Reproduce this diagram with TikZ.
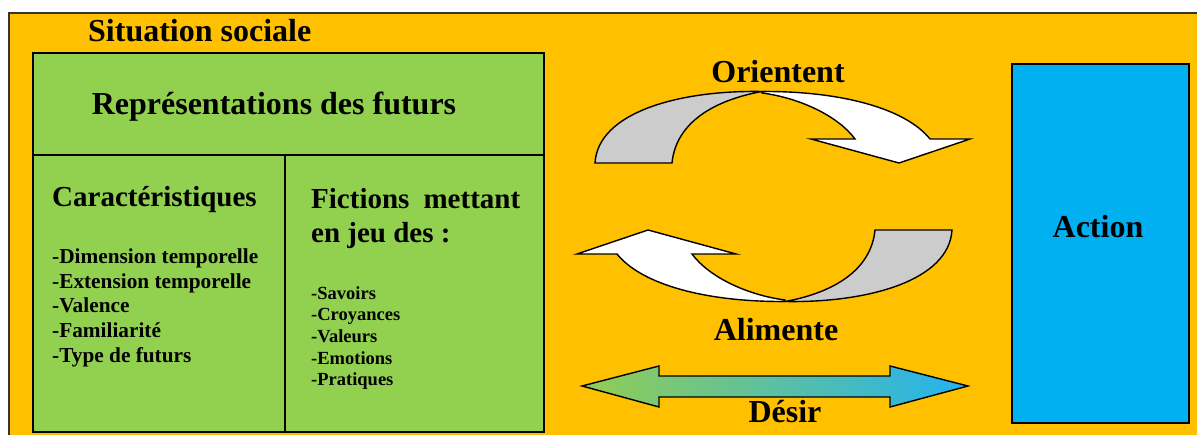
\documentclass[tikz,border=0pt]{standalone}
\usepackage{fontspec}
\setmainfont{Liberation Serif}
\definecolor{bgorange}{HTML}{FFC000}
\definecolor{boxgreen}{HTML}{92D050}
\definecolor{boxblue}{HTML}{00B0F0}
\definecolor{arrgray}{HTML}{CCCCCC}
\definecolor{shgreen}{HTML}{8CCB5C}
\definecolor{shblue}{HTML}{2AB4E8}
\tikzset{
  frame/.style={line width=1.6pt, draw=black},
  big/.style={font=\bfseries\fontsize{32}{36}\selectfont, inner sep=0pt},
  mid/.style={font=\bfseries\fontsize{29}{34}\selectfont, inner sep=0pt},
  lista/.style={font=\bfseries\fontsize{21.3}{24.75}\selectfont, inner sep=0pt, align=left},
  listb/.style={font=\bfseries\fontsize{18.5}{21.7}\selectfont, inner sep=0pt, align=left},
  blockarrow/.style={line width=1.4pt, draw=black, line join=miter},
}
\begin{document}
\begin{tikzpicture}[x=1pt,y=-1pt]
\useasboundingbox (0,0) rectangle (1197,435);
% social situation background
\fill[bgorange] (8,12) rectangle (1200,440);
\draw[line width=1.6pt, draw=black!80] (9,440) -- (9,12.8) -- (1200,12.8);
\node[big, anchor=base west] (sit) at (88,42) {Situation sociale};

% green box of representations
\draw[frame, fill=boxgreen] (33,53) rectangle (544,432);
\draw[frame] (33,155) -- (544,155);
\draw[frame] (285,155) -- (285,432);
\node[big, anchor=base] (rep) at (274,115) {Représentations des futurs};
\node[mid, anchor=base west] (car) at (52,207) {Caractéristiques};
\node[lista, anchor=north west] (cara) at (52,248.5) {-Dimension temporelle\\-Extension temporelle\\-Valence\\-Familiarité\\-Type de futurs};
\node[mid, anchor=base west] (fic) at (311,209) {\hbox to 209pt{Fictions\hfill mettant}};
\node[mid, anchor=base west] (jeu) at (311,243) {en jeu des :};
\node[listb, anchor=north west] (ficl) at (311,286) {-Savoirs\\-Croyances\\-Valeurs\\-Emotions\\-Pratiques};

% action box
\node[frame, fill=boxblue, minimum width=177, minimum height=359, inner sep=0pt] (act) at (1100.5,243.5) {};
\node[big, anchor=base] (actl) at (1098,238) {Action};

% curved arrow "Orientent"
\begin{scope}
\draw[blockarrow, fill=white] (762,91.5) .. controls (840,91) and (905,108) .. (930,139)
  -- (970,139) -- (899,163) -- (811,139) -- (855,139)
  .. controls (838,116) and (800,98) .. (762,93) -- cycle;
\draw[blockarrow, fill=arrgray] (595,163) .. controls (598,112) and (680,90) .. (762,91.5)
  .. controls (715,100) and (676,122) .. (672,163) -- cycle;
\end{scope}
\node[big, anchor=base] (ori) at (778,83) {Orientent};

% curved arrow "Alimente" (same shape turned half a turn)
\begin{scope}[rotate around={180:(773.5,196.5)}]
\draw[blockarrow, fill=white] (762,91.5) .. controls (840,91) and (905,108) .. (930,139)
  -- (970,139) -- (899,163) -- (811,139) -- (855,139)
  .. controls (838,116) and (800,98) .. (762,93) -- cycle;
\draw[blockarrow, fill=arrgray] (595,163) .. controls (598,112) and (680,90) .. (762,91.5)
  .. controls (715,100) and (676,122) .. (672,163) -- cycle;
\end{scope}
\node[big, anchor=base] (ali) at (776,341) {Alimente};

% double arrow "Désir"
\draw[blockarrow, left color=shgreen, right color=shblue, shading angle=100]
  (582,386) -- (659,366) -- (659,376) -- (890,376) -- (890,366) -- (968,386)
  -- (890,407) -- (890,397) -- (659,397) -- (659,407) -- cycle;
\node[big, anchor=base] (des) at (785,423) {Désir};
\end{tikzpicture}
\end{document}
